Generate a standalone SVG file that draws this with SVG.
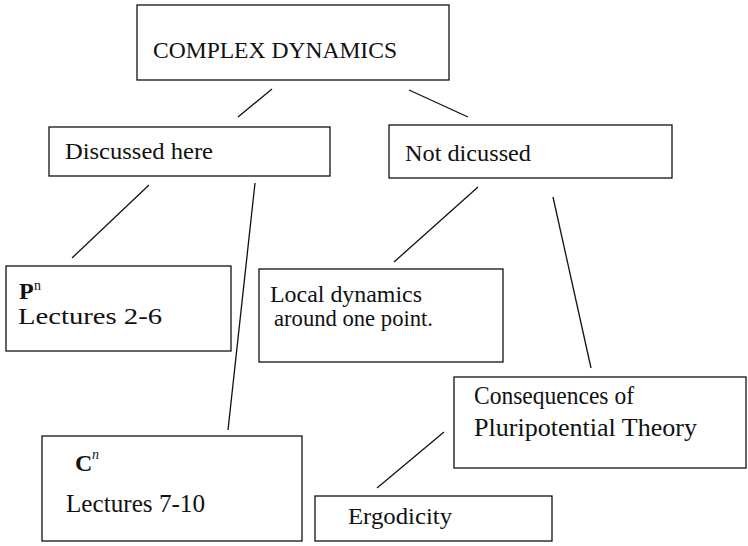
<svg xmlns="http://www.w3.org/2000/svg" width="748" height="546" viewBox="0 0 748 546">
<style>
.box{fill:#fff;stroke:#111;stroke-width:1.3}
.t{font-family:"Liberation Serif","Times New Roman",serif;font-size:24px;fill:#111}
.c{font-family:"Liberation Serif","Times New Roman",serif;font-size:26px;fill:#111}
.b{font-weight:bold}
.sup{font-size:14px}
#connectors line{stroke:#111;stroke-width:1.3}
</style>
<rect width="748" height="546" fill="#fff"/>
<g id="connectors">
<line x1="272" y1="89" x2="238" y2="117"/>
<line x1="409" y1="90" x2="468" y2="117"/>
<line x1="149" y1="185" x2="72" y2="258"/>
<line x1="255" y1="183" x2="228" y2="430"/>
<line x1="478" y1="187" x2="394" y2="262"/>
<line x1="553" y1="197" x2="591" y2="368"/>
<line x1="444" y1="432" x2="377" y2="488"/>
</g>
<g id="complex-dynamics">
<rect class="box" x="137" y="5" width="312" height="75"/>
<text class="t" x="153" y="58" font-size="25" textLength="244" lengthAdjust="spacingAndGlyphs">COMPLEX DYNAMICS</text>
</g>
<g id="discussed-here">
<rect class="box" x="49" y="127" width="281" height="49"/>
<text class="t" x="65" y="159" textLength="148" lengthAdjust="spacingAndGlyphs">Discussed here</text>
</g>
<g id="not-discussed">
<rect class="box" x="389" y="125" width="283" height="53"/>
<text class="t" x="405" y="161" textLength="126" lengthAdjust="spacingAndGlyphs">Not dicussed</text>
</g>
<g id="pn">
<rect class="box" x="6" y="266" width="225" height="85"/>
<text class="t b" x="19" y="299" font-size="22">P</text>
<text class="t sup" x="34" y="290">n</text>
<text class="t" x="18" y="324" textLength="144" lengthAdjust="spacingAndGlyphs">Lectures 2-6</text>
</g>
<g id="local-dynamics">
<rect class="box" x="259" y="269" width="244" height="93"/>
<text class="t" x="270" y="302" textLength="152" lengthAdjust="spacingAndGlyphs">Local dynamics</text>
<text class="t" x="274" y="326" textLength="159" lengthAdjust="spacingAndGlyphs">around one point.</text>
</g>
<g id="consequences">
<rect class="box" x="454" y="377" width="292" height="91"/>
<text class="c" x="474" y="404" textLength="160" lengthAdjust="spacingAndGlyphs">Consequences of</text>
<text class="c" x="474" y="436" textLength="223" lengthAdjust="spacingAndGlyphs">Pluripotential Theory</text>
</g>
<g id="cn">
<rect class="box" x="42" y="436" width="260" height="105"/>
<text class="t b" x="75" y="471">C</text>
<text class="t sup" x="92" y="459" font-style="italic">n</text>
<text class="c" x="66" y="512" textLength="139" lengthAdjust="spacingAndGlyphs">Lectures 7-10</text>
</g>
<g id="ergodicity">
<rect class="box" x="315" y="496" width="237" height="45"/>
<text class="t" x="348" y="524" textLength="104" lengthAdjust="spacingAndGlyphs">Ergodicity</text>
</g>
</svg>
